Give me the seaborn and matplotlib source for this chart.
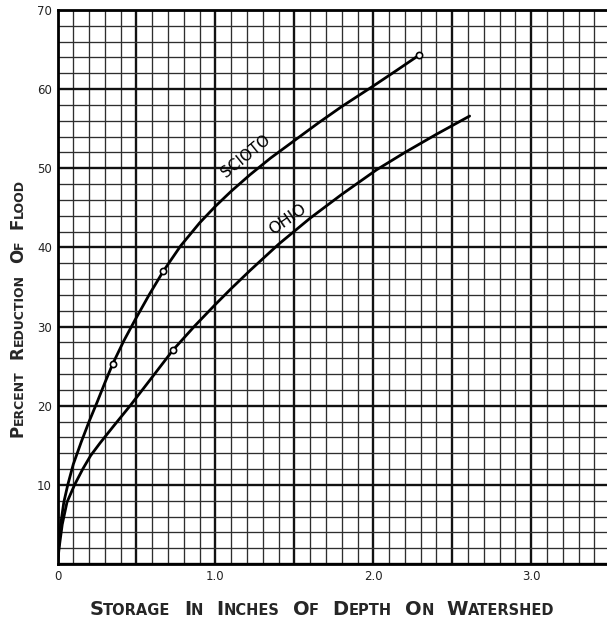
import matplotlib
matplotlib.use("Agg")
import numpy as np
import pandas as pd
import matplotlib.pyplot as plt
import seaborn as sns
from matplotlib.ticker import MultipleLocator, FuncFormatter

# ---- data ----
scioto_x = [0.0, 0.01, 0.02, 0.04, 0.065, 0.1, 0.15, 0.2, 0.25, 0.3, 0.35, 0.42, 0.49,
            0.58, 0.67, 0.78, 0.9, 1.0, 1.1, 1.22, 1.35, 1.5, 1.65, 1.8, 2.0, 2.15, 2.29]
scioto_y = [0.0, 2.5, 5.0, 7.8, 10.0, 12.6, 15.4, 18.0, 20.4, 22.9, 25.3, 28.2, 30.8,
            34.0, 37.0, 40.2, 43.1, 45.2, 47.1, 49.2, 51.3, 53.5, 55.7, 57.8, 60.4, 62.4, 64.3]
ohio_x = [0.0, 0.01, 0.03, 0.06, 0.108, 0.16, 0.21, 0.27, 0.35, 0.46, 0.58, 0.73, 0.87,
          1.0, 1.1, 1.22, 1.4, 1.6, 1.8, 2.02, 2.2, 2.4, 2.61]
ohio_y = [0.0, 2.0, 5.0, 7.8, 10.0, 12.0, 13.7, 15.3, 17.3, 20.0, 23.1, 27.0, 30.1,
          32.8, 34.8, 37.1, 40.4, 43.7, 46.7, 49.8, 52.0, 54.3, 56.6]
scioto_pts_x = [0.35, 0.67, 2.29]
scioto_pts_y = [25.3, 37.0, 64.3]
ohio_pts_x = [0.73]
ohio_pts_y = [27.0]
curve_names = ["SCIOTO", "OHIO"]
x_label_words = ["Storage", "in", "Inches", "of", "Depth", "on", "Watershed"]
y_label_words = ["Percent", "Reduction", "of", "Flood"]

sns.set_theme(style="white")
plt.rcParams["font.family"] = ["DejaVu Sans"]

W, H = 607, 620
fig = plt.figure(figsize=(W / 100, H / 100), dpi=100)
fig.patch.set_facecolor("white")
ax = fig.add_axes([57.5 / W, 56 / H, (W - 57.5) / W, (564 - 10) / H])
ax.set_facecolor("white")

df = pd.concat([
    pd.DataFrame({"x": scioto_x, "y": scioto_y, "river": curve_names[0]}),
    pd.DataFrame({"x": ohio_x, "y": ohio_y, "river": curve_names[1]}),
])
sns.lineplot(data=df, x="x", y="y", hue="river", estimator=None, sort=False,
             palette={curve_names[0]: "black", curve_names[1]: "black"},
             linewidth=2.0, legend=False, ax=ax, zorder=4)
for line in ax.lines:
    line.set_solid_joinstyle("round")
    line.set_solid_capstyle("round")
sns.scatterplot(x=scioto_pts_x + ohio_pts_x, y=scioto_pts_y + ohio_pts_y, s=20,
                facecolor="white", edgecolor="black", linewidth=1.2, ax=ax, zorder=5)

ax.set_xlim(0, 3.48)
ax.set_ylim(0, 70)
ax.xaxis.set_major_locator(MultipleLocator(0.5))
ax.xaxis.set_minor_locator(MultipleLocator(0.1))
ax.yaxis.set_major_locator(MultipleLocator(10))
ax.yaxis.set_minor_locator(MultipleLocator(2))


def xfmt(v, p):
    if abs(v) < 1e-9:
        return "0"
    if abs(v - round(v)) < 1e-9:
        return f"{v:.1f}"
    return ""


def yfmt(v, p):
    if abs(v) < 1e-9:
        return ""
    return f"{int(round(v))}"


ax.xaxis.set_major_formatter(FuncFormatter(xfmt))
ax.yaxis.set_major_formatter(FuncFormatter(yfmt))
ax.grid(which="major", color="#111111", linewidth=1.7)
ax.grid(which="minor", color="#2e2e2e", linewidth=0.95)
ax.set_axisbelow(True)
ax.tick_params(which="both", length=0)
ax.tick_params(axis="both", labelsize=8.5, labelcolor="#222222")
ax.tick_params(axis="x", pad=4)
ax.tick_params(axis="y", pad=4)
for s in ["left", "bottom", "top"]:
    ax.spines[s].set_visible(True)
    ax.spines[s].set_color("black")
    ax.spines[s].set_linewidth(2.0)
ax.spines["right"].set_visible(False)
ax.set_xlabel("")
ax.set_ylabel("")

ax.text(1.19, 51.5, curve_names[0], rotation=39, ha="center", va="center",
        rotation_mode="anchor", fontsize=11, color="black", zorder=6)
ax.text(1.46, 43.6, curve_names[1], rotation=35, ha="center", va="center",
        rotation_mode="anchor", fontsize=11.5, color="black", zorder=6)

# ---- small-caps axis titles ----
renderer = fig.canvas.get_renderer()


def measure(s, size):
    t = fig.text(0, 0, s, fontsize=size, fontweight="bold")
    w = t.get_window_extent(renderer).width
    t.remove()
    return w


def smallcaps(words, center, base, big, small, vertical=False, space=None):
    pieces = []
    for i, wd in enumerate(words):
        pieces.append((wd[0].upper(), big))
        if len(wd) > 1:
            pieces.append((wd[1:].upper(), small))
        if i < len(words) - 1:
            pieces.append((None, small))
    sp = space if space is not None else small * 100 / 72 * 0.9
    widths = [sp if s is None else measure(s, sz) for s, sz in pieces]
    total = sum(widths)
    pos = center - total / 2
    for (s, sz), w in zip(pieces, widths):
        if s is not None:
            if vertical:
                fig.text(base / W, pos / H, s, fontsize=sz, fontweight="bold",
                         rotation=90, rotation_mode="anchor", ha="left", va="baseline")
            else:
                fig.text(pos / W, base / H, s, fontsize=sz, fontweight="bold",
                         ha="left", va="baseline")
        pos += w


smallcaps(x_label_words, center=322, base=620 - 615, big=14, small=10.5)
smallcaps(y_label_words, center=620 - 308, base=23, big=12, small=9, vertical=True)

fig.savefig("out.png", dpi=100, facecolor="white")
